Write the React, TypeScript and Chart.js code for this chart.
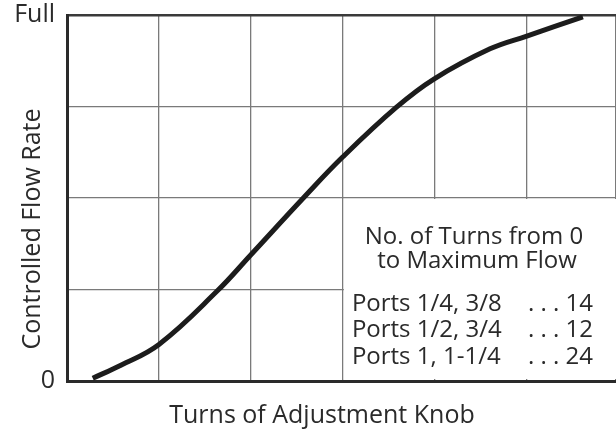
import React, { useEffect, useRef } from "react";
import { Chart, registerables } from "chart.js";

Chart.register(...registerables);

const turns = [0.28, 0.58, 1.0, 1.63, 2.0, 2.57, 3.0, 3.58, 3.99, 4.6, 5.0, 5.61];
const flow = [0.03, 0.17, 0.4, 0.98, 1.38, 2.0, 2.45, 2.99, 3.3, 3.63, 3.77, 3.98];
const yTickLabels: Record<number, string> = { 0: "0", 4: "Full" };
const xTitle = "Turns of Adjustment Knob";
const yTitle = "Controlled Flow Rate";
const noteHeader = ["No. of Turns from 0", "to Maximum Flow"];
const notePorts = ["Ports 1/4, 3/8", "Ports 1/2, 3/4", "Ports 1, 1-1/4"];
const noteTurns = [". . . 14", ". . . 12", ". . . 24"];

const FONT = "'Open Sans', 'Noto Sans', sans-serif";
const TEXT = "#2a2a2a";

const overlay = {
  id: "overlay",
  beforeDatasetsDraw(chart: any) {
    const { ctx } = chart;
    const xs = chart.scales.x;
    const ys = chart.scales.y;
    const left = xs.getPixelForValue(3) + 1;
    const top = ys.getPixelForValue(2) + 1;
    const bottom = ys.getPixelForValue(0) - 2;
    ctx.save();
    ctx.fillStyle = "#ffffff";
    ctx.fillRect(left, top, chart.width - left, bottom - top);
    ctx.restore();
  },
  afterDraw(chart: any) {
    const { ctx } = chart;
    const xs = chart.scales.x;
    ctx.save();
    ctx.fillStyle = TEXT;
    ctx.textBaseline = "alphabetic";
    ctx.font = `25px ${FONT}`;
    // x title
    ctx.textAlign = "center";
    ctx.fillText(xTitle, 322, 423);
    // y title
    ctx.save();
    ctx.translate(40, 229);
    ctx.rotate(-Math.PI / 2);
    ctx.textAlign = "center";
    ctx.fillText(yTitle, 0, 0);
    ctx.restore();
    // note box
    ctx.font = `24px ${FONT}`;
    const boxLeft = xs.getPixelForValue(3);
    ctx.textAlign = "center";
    ctx.fillText(noteHeader[0], 474, 244);
    ctx.fillText(noteHeader[1], 477, 268);
    const rows = [311, 337, 364];
    for (let i = 0; i < notePorts.length; i++) {
      ctx.textAlign = "left";
      ctx.fillText(notePorts[i], boxLeft + 9, rows[i]);
      ctx.textAlign = "right";
      ctx.fillText(noteTurns[i], 593, rows[i]);
    }
    ctx.restore();
  },
};

export default function App() {
  const ref = useRef<HTMLCanvasElement>(null);
  useEffect(() => {
    if (!ref.current) return;
    const chart = new Chart(ref.current, {
      type: "line",
      data: {
        datasets: [
          {
            data: turns.map((t, i) => ({ x: t, y: flow[i] })),
            borderColor: "#1c1c1c",
            borderWidth: 5,
            borderCapStyle: "butt",
            pointRadius: 0,
            tension: 0.4,
            fill: false,
          },
        ],
      },
      options: {
        animation: false,
        responsive: false,
        layout: { padding: { top: 15, right: 0, left: 0, bottom: 0 } },
        plugins: { legend: { display: false }, tooltip: { enabled: false } },
        scales: {
          x: {
            type: "linear",
            min: 0,
            max: 5.97,
            ticks: { display: false, stepSize: 1 },
            grid: { color: "#7a7a7a", lineWidth: 1.3, drawTicks: false },
            border: { display: true, color: "#2a2a2a", width: 3 },
            afterFit: (s: any) => {
              s.height = 49;
              s.paddingLeft = 0;
              s.paddingRight = 0;
            },
          },
          y: {
            min: 0,
            max: 4,
            ticks: {
              stepSize: 1,
              padding: 12,
              color: TEXT,
              font: { family: FONT, size: 25 },
              callback: (v: any) => yTickLabels[v as number] ?? "",
            },
            grid: {
              drawTicks: false,
              color: (c: any) => (c.tick && c.tick.value === 4 ? "#3a3a3a" : "#7a7a7a"),
              lineWidth: (c: any) => (c.tick && c.tick.value === 4 ? 2.5 : 1.3),
            },
            border: { display: true, color: "#2a2a2a", width: 3 },
            afterFit: (s: any) => {
              s.width = 67;
              s.paddingTop = 0;
              s.paddingBottom = 0;
            },
          },
        },
      },
      plugins: [overlay],
    });
    return () => chart.destroy();
  }, []);
  return (
    <div style={{ position: "absolute", left: 0, top: 0, width: 616, height: 430, background: "#fff" }}>
      <canvas ref={ref} width={616} height={430} />
    </div>
  );
}
